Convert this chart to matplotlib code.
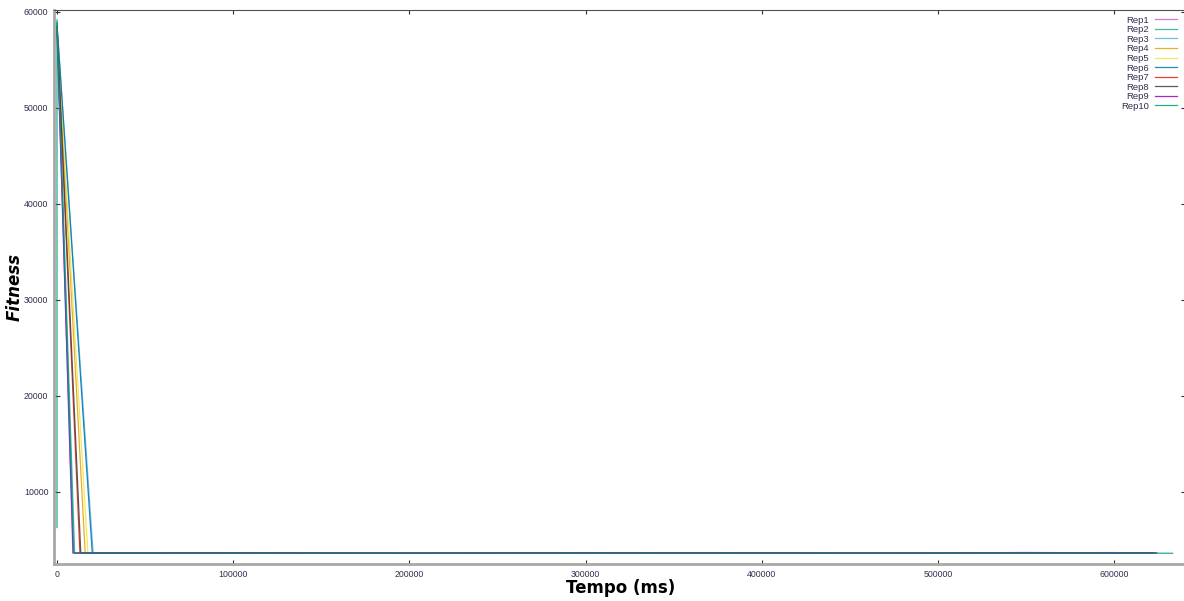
import matplotlib
matplotlib.use('Agg')
import matplotlib.pyplot as plt

# gnuplot-like default palette, one per repetition
rep_names = ['Rep1', 'Rep2', 'Rep3', 'Rep4', 'Rep5', 'Rep6', 'Rep7', 'Rep8', 'Rep9', 'Rep10']
rep_colors = ['#c060e8', '#20b090', '#56b4e9', '#e69f00', '#f0e442',
              '#0072b2', '#e51e10', '#404040', '#9400d3', '#009e73']

# start of each run (ms, fitness)
start_t = [0, 0, 0, 0, 0, 0, 0, 0, 0, 0]
start_f = [58200, 59200, 58600, 58400, 58000, 58800, 58300, 58500, 57900, 59000]
# first point after the big drop
drop_t = [9000, 10000, 20500, 16000, 17500, 20000, 13000, 13500, 9200, 9500]
drop_f = [3650, 3640, 3660, 3650, 3640, 3650, 3660, 3650, 3640, 3650]

# plateau samples
tail_t = [50000, 100000, 150000, 200000, 250000, 300000, 350000,
          400000, 450000, 500000, 550000, 600000]
tail_f = [
    [3660, 3650, 3640, 3660, 3650, 3640, 3650, 3660, 3640, 3650, 3700, 3660],
    [3640, 3660, 3650, 3640, 3670, 3650, 3640, 3660, 3650, 3640, 3660, 3650],
    [3650, 3670, 3640, 3650, 3660, 3640, 3660, 3650, 3640, 3660, 3650, 3640],
    [3660, 3640, 3660, 3650, 3640, 3660, 3650, 3680, 3650, 3640, 3660, 3670],
    [3640, 3660, 3650, 3660, 3650, 3660, 3640, 3650, 3660, 3650, 3640, 3660],
    [3650, 3640, 3660, 3640, 3650, 3650, 3660, 3640, 3650, 3660, 3650, 3640],
    [3660, 3650, 3650, 3660, 3640, 3660, 3650, 3650, 3640, 3650, 3670, 3690],
    [3650, 3660, 3640, 3650, 3660, 3650, 3670, 3650, 3660, 3640, 3680, 3650],
    [3640, 3650, 3660, 3640, 3650, 3660, 3640, 3660, 3650, 3660, 3650, 3640],
    [3650, 3640, 3650, 3660, 3650, 3640, 3650, 3640, 3660, 3650, 3640, 3650],
]
end_t = [624000, 622000, 621000, 623000, 620000, 622000, 623000, 621000, 624000, 633000]
end_f = [3650, 3640, 3650, 3660, 3650, 3640, 3650, 3660, 3640, 3620]

# Rep10 has an extra low first sample at t=0
pre_t = {9: 0}
pre_f = {9: 6300}

small_font = 'Liberation Sans'

W, H = 1184, 601
fig = plt.figure(figsize=(W / 100, H / 100), dpi=100)
# axes box in pixels: left 54, right 1187 (just past the edge), top 10, bottom 564
ax = fig.add_axes([54 / W, 1 - 564 / H, (1187 - 54) / W, (564 - 10) / H])

for i, name in enumerate(rep_names):
    ts = [start_t[i], drop_t[i]] + tail_t + [end_t[i]]
    fs = [start_f[i], drop_f[i]] + tail_f[i] + [end_f[i]]
    if i in pre_t:
        ts = [pre_t[i]] + ts
        fs = [pre_f[i]] + fs
    ax.plot(ts, fs, color=rep_colors[i], lw=0.9, alpha=0.85, label=name)

ax.set_xlim(-1700, 641200)
ax.set_ylim(2500, 60200)
ax.set_xticks([0, 100000, 200000, 300000, 400000, 500000, 600000])
ax.set_yticks([10000, 20000, 30000, 40000, 50000, 60000])

ax.tick_params(direction='in', length=4, width=0.8, labelsize=6.3,
               labelcolor='#303050', color='#303030',
               top=True, right=True, pad=4)
ax.tick_params(axis='x', which='both', top=True, length=3)
for lbl in ax.get_xticklabels() + ax.get_yticklabels():
    lbl.set_fontfamily(small_font)

for side in ['left', 'bottom']:
    ax.spines[side].set_color('#a8a8a8')
    ax.spines[side].set_linewidth(2)
for side in ['top', 'right']:
    ax.spines[side].set_color('#505050')
    ax.spines[side].set_linewidth(0.8)

ax.set_xlabel('Tempo (ms)', fontsize=12, fontweight='bold', labelpad=0)
ax.set_ylabel('Fitness', fontsize=12, fontweight='bold', style='italic')
ax.yaxis.set_label_coords(-30 / (1187 - 54), 0.5)

leg = ax.legend(loc='upper right', frameon=False, markerfirst=False,
                prop={'family': small_font, 'size': 6.8},
                handlelength=2.4, labelspacing=0.06, borderaxespad=0.2,
                handletextpad=0.6, bbox_to_anchor=((1183 - 54) / (1187 - 54), 1.0))
for t in leg.get_texts():
    t.set_color('#303050')

fig.savefig('out.png', dpi=100)
